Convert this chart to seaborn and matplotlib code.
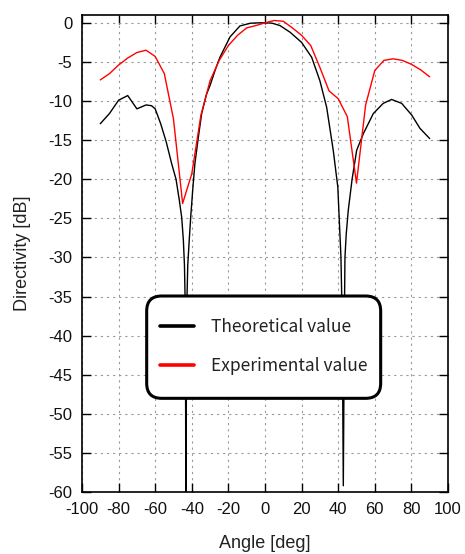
import numpy as np
import pandas as pd
import matplotlib
matplotlib.use("Agg")
import matplotlib.pyplot as plt
import seaborn as sns
from matplotlib.font_manager import FontProperties
from matplotlib.patches import FancyBboxPatch

# ---- data ----
theory_angle = [-90, -85, -80, -75, -70, -65, -62, -60, -57, -54, -51, -48.6, -46.8, -45.5,
                -44.6, -44.0, -43.6, -43.35, -43.2, -43.0, -42.7, -42.2, -41.4, -40.6, -39.5,
                -38.3, -36.4, -34.6, -31.9, -30, -27, -24.6, -19.1, -13.7, -8, -3, 1, 4, 8.2,
                13.7, 20, 25.5, 30, 33.7, 37.3, 39.8, 41.5, 41.9, 42.4, 42.8, 43.2, 43.5, 43.7,
                44.4, 45.5, 47.6, 50.1, 53.7, 59.2, 64.6, 69.2, 74.7, 80.2, 84.7, 90]
theory_db = [-12.9, -11.6, -9.9, -9.3, -11.0, -10.5, -10.6, -11.0, -12.9, -15.2, -18.0, -20.0,
             -22.7, -24.9, -27.8, -31.0, -36.0, -50.0, -75.0, -50.0, -36.0, -31.0, -27.8, -24.9,
             -21.4, -18.0, -14.6, -11.6, -9.1, -8.0, -5.9, -4.4, -1.8, -0.4, -0.05, 0.0, 0.0,
             -0.05, -0.35, -1.2, -2.5, -4.4, -7.4, -10.8, -16.3, -21.0, -29.9, -34.6, -45.0,
             -59.2, -45.0, -35.0, -30.0, -27.0, -24.0, -20.0, -16.3, -14.2, -11.6, -10.3, -9.8,
             -10.3, -11.8, -13.5, -14.8]

exp_angle = [-90, -85, -80, -75, -70, -65, -60, -55, -50, -45, -40, -35, -30, -25, -20, -15,
             -10, -5, 0, 5, 10, 15, 20, 25, 30, 35, 40, 45, 50, 55, 60, 65, 70, 75, 80, 85, 90]
exp_db = [-7.3, -6.5, -5.4, -4.5, -3.8, -3.5, -4.3, -6.5, -12.3, -23.1, -19.3, -11.8, -7.4,
          -4.8, -2.9, -1.6, -0.65, -0.35, 0.0, 0.3, 0.2, -0.65, -1.6, -2.9, -5.7, -8.7, -9.7,
          -12.0, -20.5, -10.5, -6.1, -4.8, -4.6, -4.8, -5.3, -6.0, -6.9]

x_ticks = [-100, -80, -60, -40, -20, 0, 20, 40, 60, 80, 100]
y_ticks = [0, -5, -10, -15, -20, -25, -30, -35, -40, -45, -50, -55, -60]
labels = ["Theoretical value", "Experimental value"]

sns.set_theme(style="ticks")
plt.rcParams["font.family"] = ["Liberation Sans", "DejaVu Sans"]

fig, ax = plt.subplots(figsize=(4.65, 5.54), dpi=100)
fig.subplots_adjust(left=0.1763, right=0.9634, bottom=0.1119, top=0.9729)

df_t = pd.DataFrame({"angle": theory_angle, "dB": theory_db})
df_e = pd.DataFrame({"angle": exp_angle, "dB": exp_db})
sns.lineplot(data=df_t, x="angle", y="dB", color="black", lw=1.0, label=labels[0],
             ax=ax, sort=False, estimator=None)
sns.lineplot(data=df_e, x="angle", y="dB", color="#ff0000", lw=1.0, label=labels[1],
             ax=ax, sort=False, estimator=None)

ax.set_xlim(-100, 100)
ax.set_ylim(-60, 1)
ax.set_xticks(x_ticks)
ax.set_yticks(y_ticks)
ax.set_xticklabels([str(v) for v in x_ticks])
ax.set_yticklabels([str(v) for v in y_ticks])

ax.grid(True, linestyle=(0, (2, 3.5)), color="#999999", lw=0.8)
ax.set_axisbelow(True)
for s in ax.spines.values():
    s.set_color("black")
    s.set_linewidth(1.2)
    s.set_visible(True)

ax.tick_params(direction="in", length=6.5, width=1, top=True, right=True,
               labelsize=12, colors="black")
ax.tick_params(axis="x", pad=7)
ax.tick_params(axis="y", pad=7)
for lab in ax.get_xticklabels() + ax.get_yticklabels():
    lab.set_color("#111111")

ax.set_xlabel("Angle [deg]", fontsize=13, labelpad=13, color="#222222")
ax.set_ylabel("Directivity [dB]", fontsize=13, labelpad=12, color="#222222")

# rounded legend box (axes fraction coordinates)
bx0, by0, bw, bh = 0.1768, 0.1964, 0.6393, 0.2145
box = FancyBboxPatch((bx0, by0), bw, bh,
                     boxstyle="round,pad=0,rounding_size=0.041",
                     mutation_aspect=366 / 477,
                     transform=ax.transAxes, facecolor="white", edgecolor="black",
                     linewidth=2.2, zorder=4, clip_on=False)
ax.add_patch(box)

leg = ax.legend(loc="center", bbox_to_anchor=(0.496, 0.305),
                prop=FontProperties(family=["Noto Sans CJK JP", "DejaVu Sans"], size=12.5),
                handlelength=1.95, handletextpad=0.98, borderpad=0.2, labelspacing=1.24,
                frameon=False)
leg.set_zorder(5)
for line in leg.get_lines():
    line.set_linewidth(2.6)
for t in leg.get_texts():
    t.set_color("#222222")

fig.savefig("out.png", dpi=100)
